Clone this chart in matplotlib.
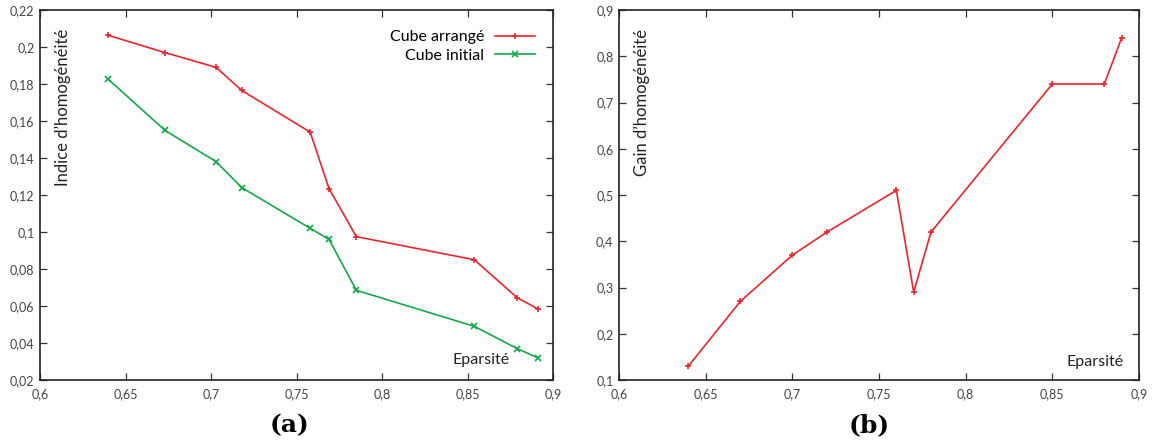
import matplotlib
matplotlib.use("Agg")
import matplotlib.pyplot as plt
from matplotlib.ticker import FuncFormatter

# (a) indice d'homogeneite
sparsity_a = [0.640, 0.673, 0.703, 0.718, 0.758, 0.769, 0.785, 0.854, 0.879, 0.891]
cube_arrange = [0.2063, 0.197, 0.189, 0.1765, 0.154, 0.1235, 0.0975, 0.085, 0.0645, 0.0585]
cube_initial = [0.1825, 0.155, 0.138, 0.124, 0.102, 0.096, 0.0685, 0.049, 0.037, 0.032]

# (b) gain d'homogeneite
sparsity_b = [0.64, 0.67, 0.70, 0.72, 0.76, 0.77, 0.78, 0.85, 0.88, 0.89]
gain = [0.13, 0.27, 0.37, 0.42, 0.51, 0.29, 0.42, 0.74, 0.74, 0.84]

red = "#e8262d"
green = "#14a84a"
plt.rcParams["font.family"] = ["Lato", "DejaVu Sans"]


def comma(v, pos):
    s = ("%.2f" % v).rstrip("0").rstrip(".")
    return s.replace(".", ",")


def style_axes(ax, xlim, ylim, yticks):
    ax.set_xlim(*xlim)
    ax.set_ylim(*ylim)
    ax.set_xticks([0.6, 0.65, 0.7, 0.75, 0.8, 0.85, 0.9])
    ax.set_yticks(yticks)
    ax.xaxis.set_major_formatter(FuncFormatter(comma))
    ax.yaxis.set_major_formatter(FuncFormatter(comma))
    ax.tick_params(direction="in", top=True, right=True, length=5, width=0.9,
                   labelsize=9, colors="#333333", labelcolor="#444444")
    ax.tick_params(axis="x", pad=6)
    ax.tick_params(axis="y", pad=4)
    for sp in ax.spines.values():
        sp.set_linewidth(1.2)
        sp.set_color("#222222")


fig = plt.figure(figsize=(11.56, 4.43), dpi=100)
ax1 = fig.add_axes([0.0346, 0.1422, 0.4438, 0.8352])
ax2 = fig.add_axes([0.5355, 0.1422, 0.4498, 0.8352])

ax1.plot(sparsity_a, cube_arrange, color=red, marker="+", markersize=5,
         markeredgewidth=1.2, linewidth=1.2, label="Cube arrangé")
ax1.plot(sparsity_a, cube_initial, color=green, marker="x", markersize=4,
         markeredgewidth=1.2, linewidth=1.2, label="Cube initial")
style_axes(ax1, (0.6, 0.9), (0.02, 0.22),
           [0.02, 0.04, 0.06, 0.08, 0.1, 0.12, 0.14, 0.16, 0.18, 0.2, 0.22])
ax1.legend(loc="upper right", bbox_to_anchor=(0.993, 0.985), frameon=False,
           markerfirst=False, fontsize=11.5, handlelength=2.5,
           labelspacing=0.3, handletextpad=0.7)
ax1.text(0.045, 0.95, "Indice d\u2019homogénéité", transform=ax1.transAxes,
         rotation=90, va="top", ha="center", fontsize=12, color="#222222")
ax1.text(0.915, 0.035, "Eparsité", transform=ax1.transAxes, ha="right",
         va="bottom", fontsize=11.5, color="#222222")

ax2.plot(sparsity_b, gain, color=red, marker="+", markersize=5,
         markeredgewidth=1.2, linewidth=1.2)
style_axes(ax2, (0.6, 0.9), (0.1, 0.9),
           [0.1, 0.2, 0.3, 0.4, 0.5, 0.6, 0.7, 0.8, 0.9])
ax2.text(0.043, 0.95, "Gain d\u2019homogénéité", transform=ax2.transAxes,
         rotation=90, va="top", ha="center", fontsize=12, color="#222222")
ax2.text(0.97, 0.03, "Eparsité", transform=ax2.transAxes, ha="right",
         va="bottom", fontsize=11.5, color="#222222")

fig.text(0.25, 0.04, "(a)", ha="center", va="center", fontsize=18,
         fontweight="bold", family="DejaVu Serif")
fig.text(0.752, 0.04, "(b)", ha="center", va="center", fontsize=18,
         fontweight="bold", family="DejaVu Serif")

fig.savefig("out.png", dpi=100)
